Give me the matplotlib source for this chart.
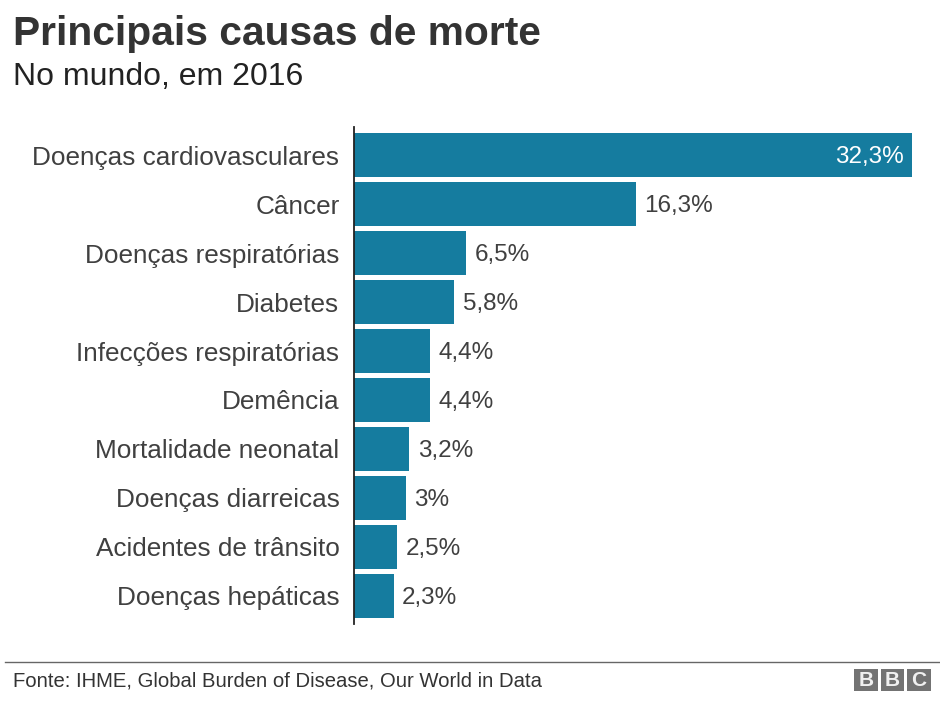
#!/usr/bin/env python3
"""Principais causas de morte, BBC style bar chart."""

import matplotlib
matplotlib.use("Agg")
import matplotlib.pyplot as plt
from matplotlib.patches import Rectangle

CAUSES = [
    "Doenças cardiovasculares", "Câncer", "Doenças respiratórias", "Diabetes",
    "Infecções respiratórias", "Demência", "Mortalidade neonatal",
    "Doenças diarreicas", "Acidentes de trânsito", "Doenças hepáticas",
]
VALUES = [32.3, 16.3, 6.5, 5.8, 4.4, 4.4, 3.2, 3.0, 2.5, 2.3]
VALUE_LABELS = ["32,3%", "16,3%", "6,5%", "5,8%", "4,4%", "4,4%", "3,2%", "3%", "2,5%", "2,3%"]

BAR_COLOR = "#157c9f"
TEXT_COLOR = "#404040"

plt.rcParams["font.family"] = ["Liberation Sans", "DejaVu Sans"]

W, H = 940, 704
fig = plt.figure(figsize=(W / 100, H / 100), dpi=100, facecolor="white")


def fx(x):
    return x / W


def fy(y):
    return 1 - y / H


# plot area: axis line at x=354, bars from y=127 to y=624
ax = fig.add_axes([fx(354), fy(624), (W - 354) / W, (624 - 127) / H])
ypos = list(range(len(CAUSES)))
ax.barh(ypos, VALUES, height=0.9, color=BAR_COLOR, linewidth=0)
ax.set_ylim(len(CAUSES) - 0.42, -0.58)
ax.set_xlim(0, 32.3 * (W - 354) / (912 - 354))
ax.set_yticks(ypos, CAUSES, fontsize=18.8, color=TEXT_COLOR)
ax.tick_params(axis="y", length=0, pad=10.5)
ax.set_xticks([])
for side in ["top", "right", "bottom"]:
    ax.spines[side].set_visible(False)
ax.spines["left"].set_color("#222222")
ax.spines["left"].set_linewidth(1.3)

for i, (v, lab) in enumerate(zip(VALUES, VALUE_LABELS)):
    if i == 0:
        ax.annotate(lab, (v, i), xytext=(-6, -1.5), textcoords="offset points",
                    ha="right", va="center", fontsize=17.5, color="white")
    else:
        ax.annotate(lab, (v, i), xytext=(6, -1.5), textcoords="offset points",
                    ha="left", va="center", fontsize=17.5, color=TEXT_COLOR)

fig.text(fx(13), fy(34), "Principais causas de morte", fontsize=29.3, fontweight="bold",
         color="#333333", ha="left", va="center")
fig.text(fx(13), fy(77), "No mundo, em 2016", fontsize=23, color="#222222",
         ha="left", va="center")

# footer
fig.add_artist(plt.Line2D([fx(5), 1], [fy(662), fy(662)], color="#666666", lw=1))
fig.text(fx(13), fy(681), "Fonte: IHME, Global Burden of Disease, Our World in Data",
         fontsize=14.6, color="#333333", ha="left", va="center")

# BBC blocks
for x0, letter in zip([854, 880.5, 907], "BBC"):
    fig.add_artist(Rectangle((fx(x0), fy(691)), 23.5 / W, 22 / H, transform=fig.transFigure,
                             facecolor="#737373", edgecolor="none"))
    fig.text(fx(x0 + 11.7), fy(680.5), letter, fontsize=15, fontweight="bold", color="#f0f0f0",
             ha="center", va="center")

fig.savefig("out.png", dpi=100)
